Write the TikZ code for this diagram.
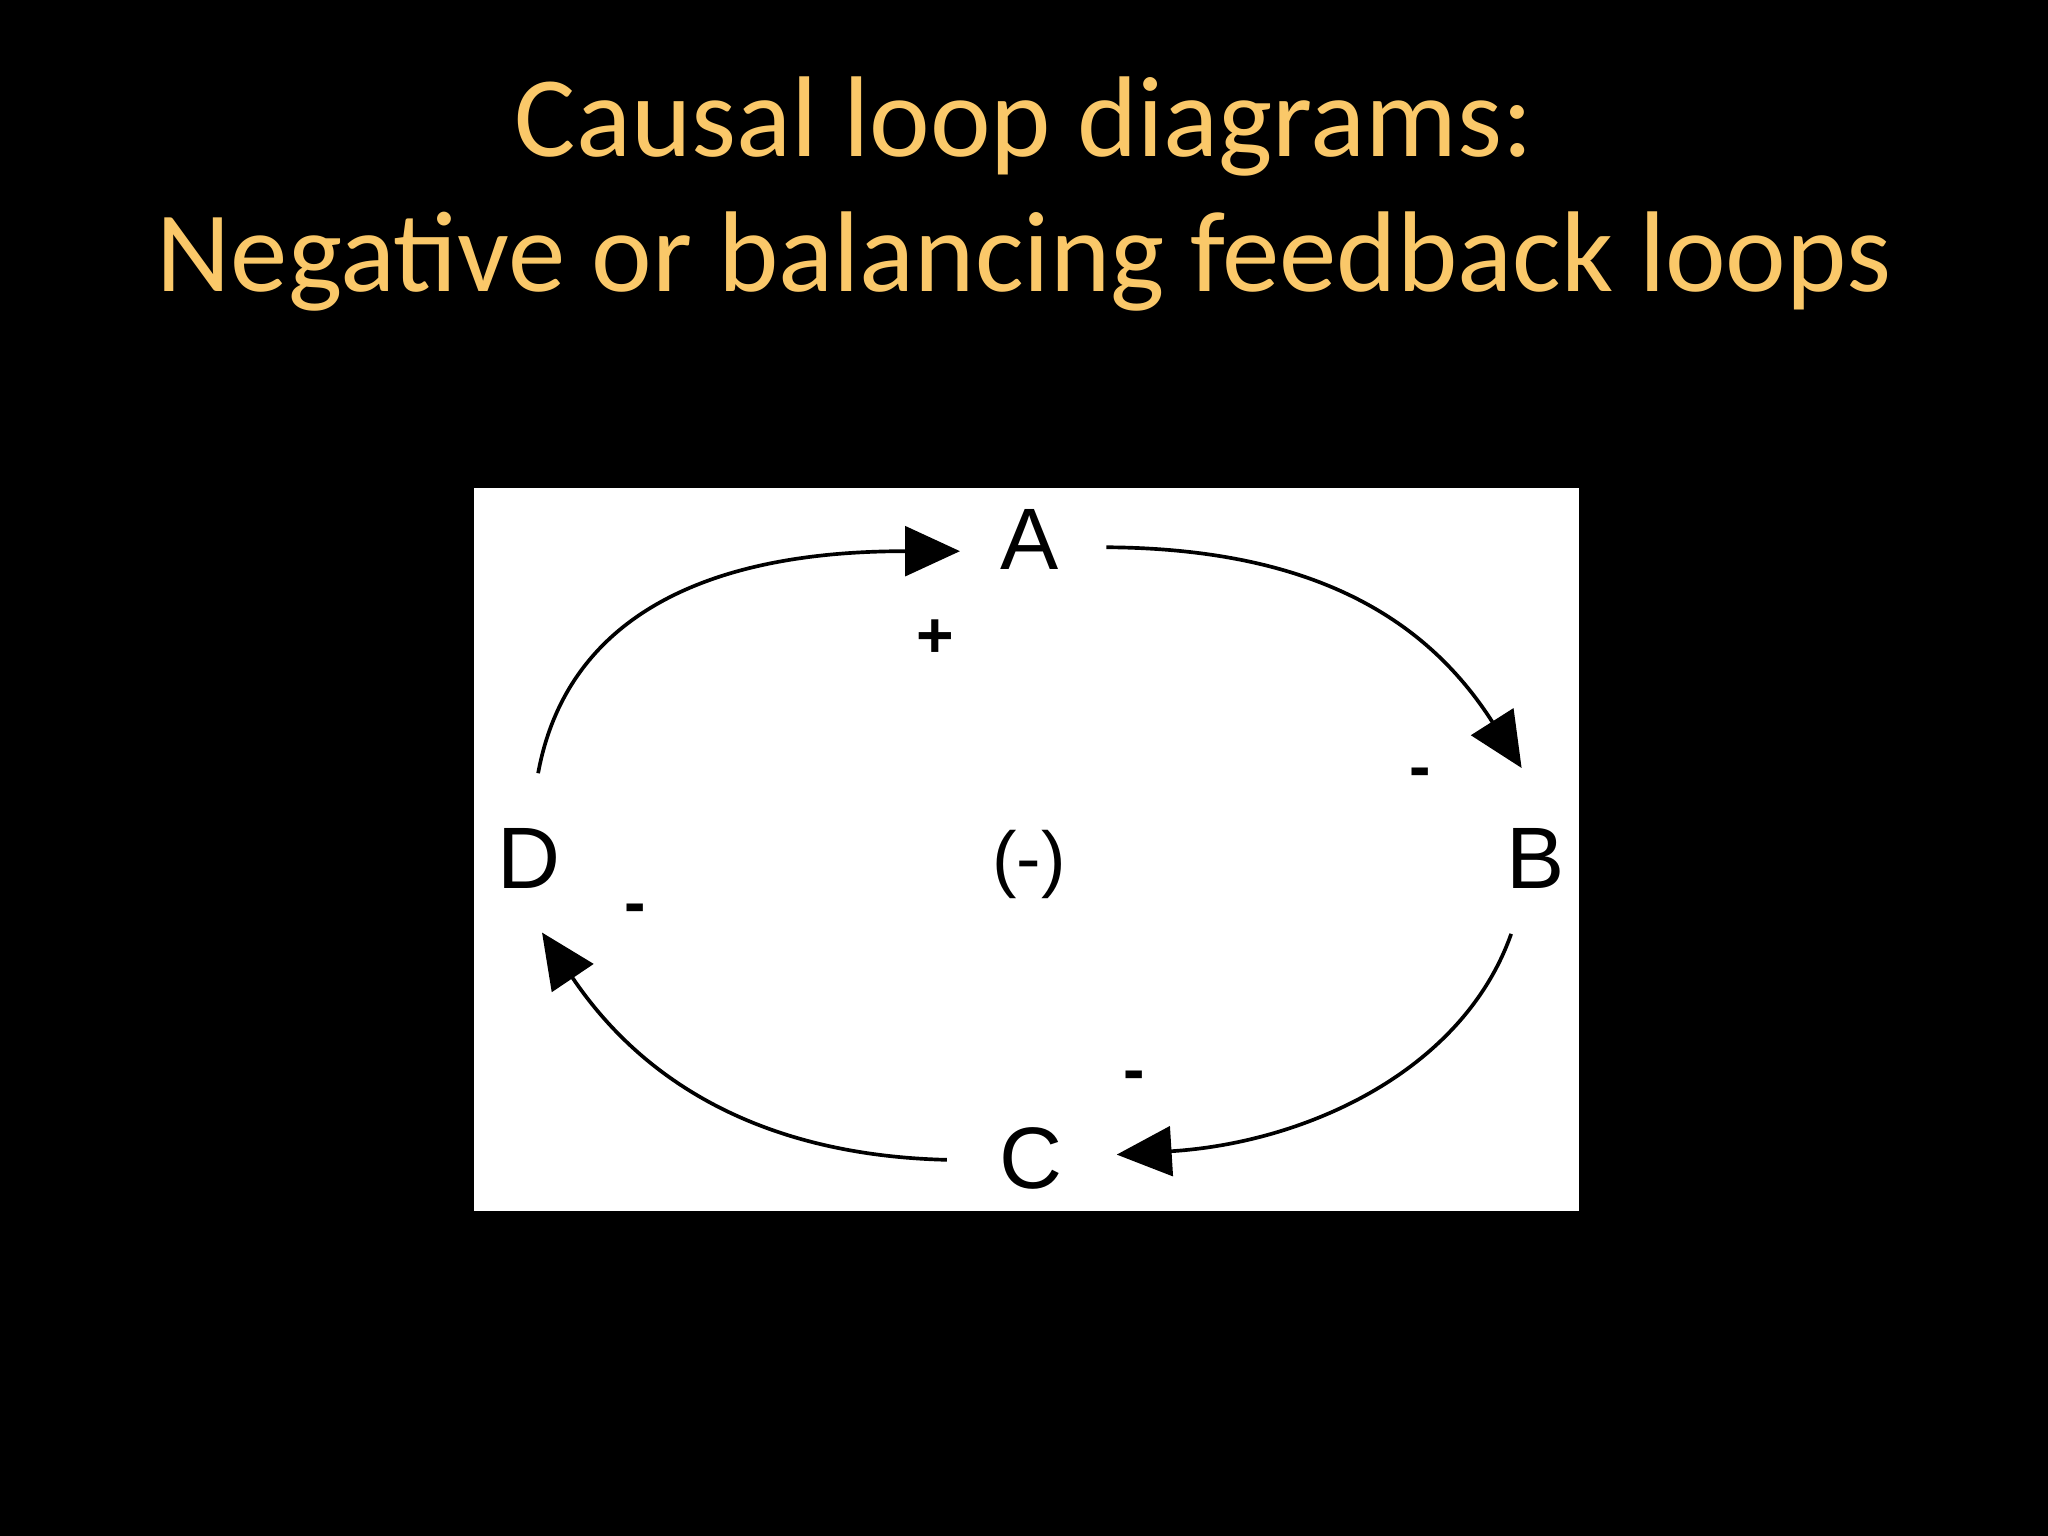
\documentclass[tikz,border=0pt]{standalone}
\usepackage{fontspec}
\setmainfont{Carlito}
\newfontfamily\lsans{Liberation Sans}
\usetikzlibrary{arrows.meta}
\definecolor{titlec}{RGB}{250,200,105}
\begin{document}
\begin{tikzpicture}[x=0.01cm,y=-0.01cm,
  lbl/.style={font=\lsans\fontsize{19}{19}\selectfont,inner sep=0pt},
  sgn/.style={font=\lsans\bfseries\fontsize{14}{14}\selectfont,inner sep=0pt},
  link/.style={line width=0.8pt,-{Triangle[length=0.42cm,width=0.38cm]}}]
\useasboundingbox (0,0) rectangle (1568,1176);
\fill[black] (0,0) rectangle (1568,1176);
\node[text=titlec,font=\fontsize{25}{25}\selectfont] (t1) at (784,97) {Causal loop diagrams:};
\node[text=titlec,font=\fontsize{25}{25}\selectfont] (t2) at (784,200) {Negative or balancing feedback loops};
\fill[white] (363,374) rectangle (1209,927);
\node[lbl] (A) at (788,413) {A};
\node[lbl] (B) at (1176,657) {B};
\node[lbl] (C) at (789,887) {C};
\node[lbl] (D) at (405,657) {D};
\node[lbl,font=\lsans\fontsize{16}{16}\selectfont] (M) at (788,662) {(-)};
\node[sgn] (s1) at (716,489) {+};
\node[sgn] (s2) at (1087,596) {-};
\node[sgn] (s3) at (868,828) {-};
\node[sgn] (s4) at (486,700) {-};
\coordinate (d0) at (412,592); \coordinate (a1) at (735,422);
\coordinate (a0) at (847,419); \coordinate (b1) at (1165,588);
\coordinate (b0) at (1157,715); \coordinate (c1) at (855,884);
\coordinate (c0) at (725,888); \coordinate (d1) at (415,714);
\draw[link] (d0) .. controls (440,440) and (600,422) .. (a1);
\draw[link] (a0) .. controls (1000,420) and (1090,470) .. (b1);
\draw[link] (b0) .. controls (1120,820) and (1000,875) .. (c1);
\draw[link] (c0) .. controls (600,885) and (500,840) .. (d1);
\end{tikzpicture}
\end{document}
